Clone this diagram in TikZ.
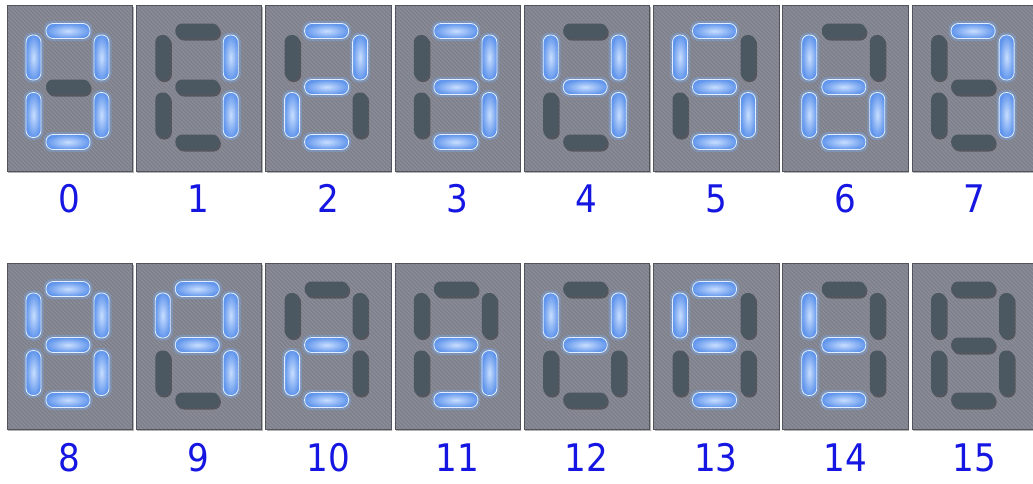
\documentclass[tikz,border=0pt]{standalone}
\usepackage{fontspec}
\newfontfamily\labfont{DejaVu Sans Condensed}
\definecolor{panelc}{RGB}{126,128,139}
\definecolor{stripec}{RGB}{141,143,154}
\definecolor{paneledge}{RGB}{82,84,92}
\definecolor{offc}{RGB}{76,88,97}
\definecolor{onouter}{RGB}{98,150,236}
\definecolor{oninner}{RGB}{200,222,255}
\definecolor{onedge}{RGB}{225,238,255}
\definecolor{glowc}{RGB}{120,175,250}
\definecolor{labc}{RGB}{22,22,226}
\newcommand\myseg[5]{%
  \ifnum#1=1
    \fill[glowc,opacity=.35,rounded corners=8.5pt] ({#2-#4/2-2.5},{#3-#5/2-2.5}) rectangle ({#2+#4/2+2.5},{#3+#5/2+2.5});
    \shade[rounded corners=7pt,inner color=oninner,outer color=onouter] ({#2-#4/2},{#3-#5/2}) rectangle ({#2+#4/2},{#3+#5/2});
    \draw[onedge,line width=.8pt,rounded corners=7pt] ({#2-#4/2},{#3-#5/2}) rectangle ({#2+#4/2},{#3+#5/2});
  \else
    \fill[black,opacity=.35,rounded corners=7pt] ({#2-#4/2+1.5},{#3-#5/2+2}) rectangle ({#2+#4/2+1.5},{#3+#5/2+2});
    \fill[offc,rounded corners=7pt] ({#2-#4/2},{#3-#5/2}) rectangle ({#2+#4/2},{#3+#5/2});
  \fi}
\tikzset{
  panel/.style={minimum width=125pt,minimum height=166pt,inner sep=0pt,fill=panelc,anchor=north west},
  lab/.style={text=labc,font=\labfont\fontsize{38}{40}\selectfont,inner sep=0pt,anchor=base}
}
\begin{document}
\begin{tikzpicture}[x=1pt,y=-1pt]
\useasboundingbox (0,0) rectangle (1033,483);
\fill[white] (0,0) rectangle (1033,483);
\foreach \n/\a/\b/\c/\d/\e/\f/\g in {
0/1/1/1/1/1/1/0, 1/0/1/1/0/0/0/0, 2/1/1/0/1/1/0/1, 3/1/1/1/1/0/0/1,
4/0/1/1/0/0/1/1, 5/1/0/1/1/0/1/1, 6/0/0/1/1/1/1/1, 7/1/1/1/0/0/0/0,
8/1/1/1/1/1/1/1, 9/1/1/1/0/0/1/1, 10/0/0/0/1/1/0/1, 11/0/0/1/1/0/0/1,
12/0/1/0/0/0/1/1, 13/1/0/0/1/0/1/1, 14/0/0/0/1/1/1/1, 15/0/0/0/0/0/0/0}
{
  \pgfmathsetmacro\px{7+129.3*mod(\n,8)}
  \pgfmathsetmacro\py{\n<8 ? 5 : 263}
  \pgfmathsetmacro\ly{\n<8 ? 212 : 471}
  \fill[black,opacity=.3] (\px+1,\py+1.5) rectangle (\px+126.5,\py+167.5);
  \node[panel] (p\n) at (\px,\py) {};
  \begin{scope}
    \clip (\px,\py) rectangle (\px+125,\py+166);
    \foreach \k in {-168,-164,...,126}
      \draw[stripec,line width=.9pt] (\px+\k,\py) -- (\px+\k+170,\py+170);
  \end{scope}
  \draw[paneledge,line width=.8pt] (p\n.north west) rectangle (p\n.south east);
  \myseg{\a}{\px+61}{\py+26}{44}{15}
  \myseg{\b}{\px+94.5}{\py+52.5}{15}{45}
  \myseg{\c}{\px+94.5}{\py+110}{15}{45}
  \myseg{\d}{\px+61}{\py+137}{44}{15}
  \myseg{\e}{\px+26.5}{\py+110}{15}{45}
  \myseg{\f}{\px+26.5}{\py+52.5}{15}{45}
  \myseg{\g}{\px+61}{\py+82}{44}{15}
  \node[lab] (l\n) at (\px+62.5,\ly) {\n};
}
\end{tikzpicture}
\end{document}
